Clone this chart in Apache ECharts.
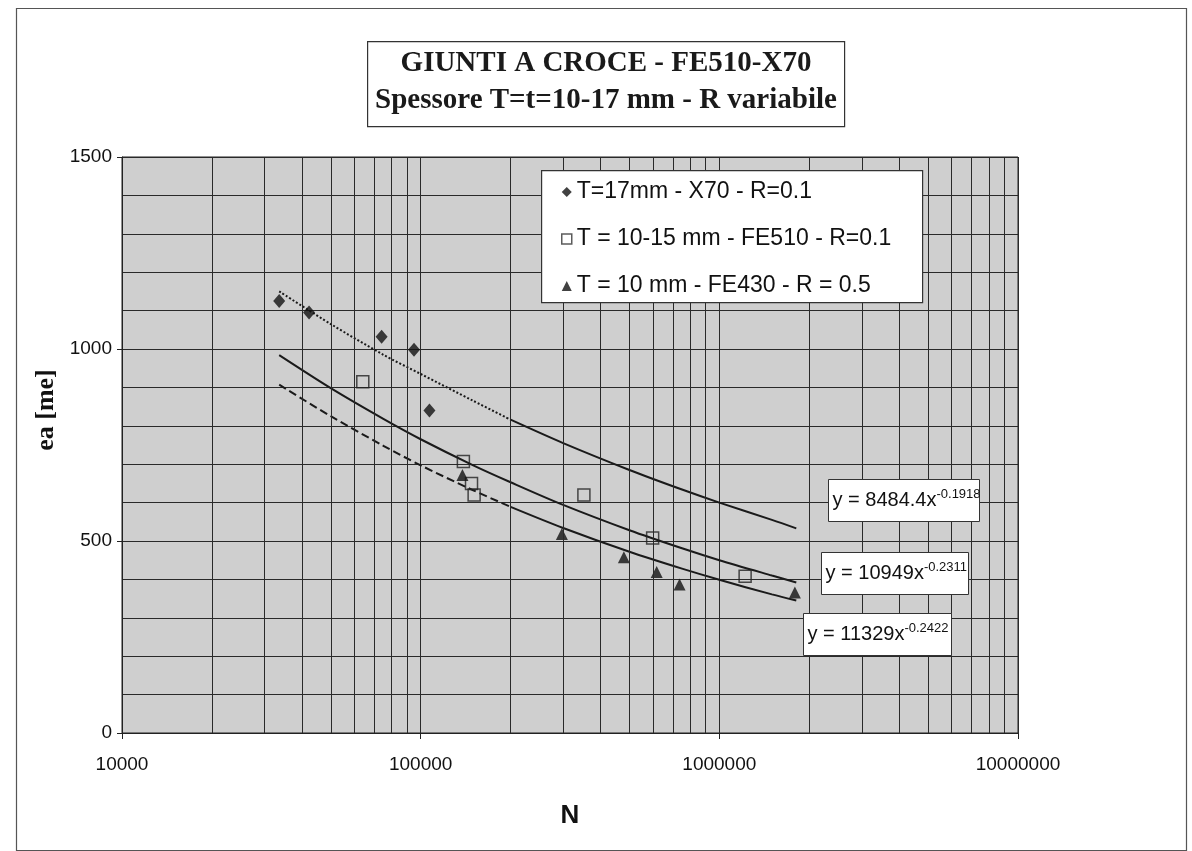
<!DOCTYPE html>
<html><head><meta charset="utf-8">
<script src="https://cdn.jsdelivr.net/npm/echarts@6/dist/echarts.min.js"></script>
<style>html,body{margin:0;padding:0;background:#fff}#c{width:1192px;height:851px}</style>
</head><body><div id="c"></div>
<script>
// ---- data ----
const seriesNames = ['T=17mm - X70 - R=0.1', 'T = 10-15 mm - FE510 - R=0.1', 'T = 10 mm - FE430 - R = 0.5'];
const x70N = [33600, 42300, 74000, 95000, 107000];
const x70Ea = [1125, 1095, 1032, 998, 840];
const fe510N = [64000, 139000, 148000, 151000, 352000, 598000, 1220000];
const fe510Ea = [915, 707, 650, 620, 620, 508, 408];
const fe430N = [138000, 297000, 479000, 617000, 736000, 1790000];
const fe430Ea = [672, 518, 458, 419, 387, 366];
// trend lines
const trendN = [33600, 50000, 75000, 100000, 150000, 200000, 300000, 500000, 750000, 1000000, 1500000, 1810000];
const trendX70 = [1150, 1065, 985, 935, 865, 816, 755, 685, 634, 600, 555, 533];
const trendFe510 = [984, 898, 818, 765, 697, 653, 594, 528, 481, 450, 410, 392];
const trendFe430 = [907, 825, 748, 697, 632, 589, 534, 472, 428, 399, 361, 345];
const equations = [['y = 8484.4x', '-0.1918'], ['y = 10949x', '-0.2311'], ['y = 11329x', '-0.2422']];
const yTickLabels = [0, 500, 1000, 1500];
const xTickLabels = ['10000', '100000', '1000000', '10000000'];
const trendSplitN = 200000;

// minor log grid positions (2..9 per decade)
const xMinor = [];
[10000, 100000, 1000000].forEach(d => { for (let k = 2; k <= 9; k++) xMinor.push(d * k); });

const pairs = (xs, ys) => xs.map((x, i) => [x, ys[i]]);
const part = (vals, lower) => trendN.map((n, i) => [n, vals[i]]).filter(p => lower ? p[0] <= trendSplitN : p[0] >= trendSplitN);

const gridColor = '#2a2a2a';
const lineColor = '#1a1a1a';
const sans = 'Liberation Sans';
const serif = 'Liberation Serif';

function trend(name, data, type) {
  return { name, type: 'line', data, showSymbol: false, smooth: 0.3, silent: true, z: 3,
    lineStyle: { color: lineColor, width: 2, type } };
}
function eqBox(x, y, w, h, eq) {
  return { type: 'group', left: x, top: y, z: 10, children: [
    { type: 'rect', shape: { x: 0, y: 0, width: w, height: h }, style: { fill: '#fff', stroke: '#333', lineWidth: 1 }, z: 10 },
    { type: 'text', x: 4, y: h / 2, z: 11, style: {
      text: '{a|' + eq[0] + '}{s|' + eq[1] + '}', verticalAlign: 'middle',
      rich: { a: { fontSize: 20, fontFamily: sans, fill: '#111', lineHeight: 26 },
              s: { fontSize: 13, fontFamily: sans, fill: '#111', verticalAlign: 'top', lineHeight: 26 } } } }
  ] };
}

const chart = echarts.init(document.getElementById('c'), null, { renderer: 'canvas' });
chart.setOption({
  animation: false,
  backgroundColor: '#fff',
  title: {
    text: 'GIUNTI A CROCE - FE510-X70\nSpessore T=t=10-17 mm - R variabile',
    left: 606, top: 45, padding: 0, z: 30, textAlign: 'center',
    textStyle: { fontFamily: serif, fontWeight: 'bold', fontSize: 29, lineHeight: 37, color: '#1a1a1a' }
  },
  legend: {
    left: 561, top: 178, orient: 'vertical', padding: 0, itemGap: 19,
    itemWidth: 10, itemHeight: 10, z: 20, selectedMode: false,
    textStyle: { fontSize: 23, lineHeight: 28, fontFamily: sans, color: '#111' },
    data: [
      { name: seriesNames[0], icon: 'diamond', itemStyle: { color: '#111' } },
      { name: seriesNames[1], icon: 'rect', itemStyle: { color: '#fff', borderColor: '#333', borderWidth: 1.5 } },
      { name: seriesNames[2], icon: 'triangle', itemStyle: { color: '#111' } }
    ]
  },
  grid: { left: 122, top: 157, width: 896, height: 576, show: true, backgroundColor: '#cfcfcf', borderColor: '#222', borderWidth: 1 },
  xAxis: {
    type: 'log', logBase: 10, min: 10000, max: 10000000,
    axisLine: { show: true, lineStyle: { color: '#222', width: 1 } },
    axisTick: { show: true, length: 6, lineStyle: { color: '#222' } },
    axisLabel: { fontSize: 19, fontFamily: sans, color: '#111', margin: 22,
      formatter: v => { const s = String(Math.round(v)); return xTickLabels.indexOf(s) >= 0 ? s : ''; } },
    splitLine: { show: true, lineStyle: { color: gridColor, width: 1 } },
    name: 'N', nameLocation: 'middle', nameGap: 70,
    nameTextStyle: { fontSize: 26, fontWeight: 'bold', fontFamily: sans, color: '#111' }
  },
  yAxis: {
    type: 'value', min: 0, max: 1500, interval: 500,
    axisLine: { show: true, onZero: false, lineStyle: { color: '#222', width: 1 } },
    axisTick: { show: true, length: 5, lineStyle: { color: '#222' } },
    axisLabel: { fontSize: 19, fontFamily: sans, color: '#111', margin: 10,
      formatter: v => yTickLabels.indexOf(v) >= 0 ? String(v) : '' },
    splitLine: { show: true, lineStyle: { color: gridColor, width: 1 } },
    minorTick: { show: false, splitNumber: 5 },
    minorSplitLine: { show: true, lineStyle: { color: gridColor, width: 1 } },
    name: 'ea [me]', nameLocation: 'middle', nameGap: 62, nameRotate: 90,
    nameTextStyle: { fontSize: 26, fontWeight: 'bold', fontFamily: serif, color: '#111', padding: [0, 0, 0, 70] }
  },
  graphic: [
    { type: 'rect', left: 14, top: 6, z: 0, shape: { width: 1170, height: 842 }, style: { fill: 'none', stroke: '#555', lineWidth: 1.2 } },
    { type: 'rect', left: 367, top: 41, z: 5, shape: { width: 477, height: 85 }, style: { fill: '#fff', stroke: '#333', lineWidth: 1.2 } },
    { type: 'rect', left: 541, top: 170, z: 10, shape: { width: 381, height: 132 }, style: { fill: '#fff', stroke: '#333', lineWidth: 1.2 } },
    eqBox(828, 479, 151, 42, equations[0]),
    eqBox(821, 552, 147, 42, equations[1]),
    eqBox(803, 613, 148, 42, equations[2])
  ],
  series: [
    { name: 'minorGrid', type: 'line', data: [], silent: true, z: 1,
      markLine: { silent: true, symbol: 'none', animation: false, label: { show: false },
        lineStyle: { color: gridColor, width: 1, type: 'solid' },
        emphasis: { disabled: true },
        data: xMinor.map(v => ({ xAxis: v })) } },
    trend('trend1a', part(trendX70, true), 'dotted'),
    trend('trend1b', part(trendX70, false), 'solid'),
    trend('trend2', pairs(trendN, trendFe510), 'solid'),
    trend('trend3a', part(trendFe430, true), 'dashed'),
    trend('trend3b', part(trendFe430, false), 'solid'),
    { name: seriesNames[0], type: 'scatter', z: 4, data: pairs(x70N, x70Ea), symbol: 'diamond', symbolSize: [12, 14], itemStyle: { color: '#111' } },
    { name: seriesNames[1], type: 'scatter', z: 4, data: pairs(fe510N, fe510Ea), symbol: 'rect', symbolSize: 12,
      itemStyle: { color: 'rgba(0,0,0,0)', borderColor: '#222', borderWidth: 1.5 } },
    { name: seriesNames[2], type: 'scatter', z: 4, data: pairs(fe430N, fe430Ea), symbol: 'triangle', symbolSize: 12, itemStyle: { color: '#111' } }
  ]
});
</script></body></html>
